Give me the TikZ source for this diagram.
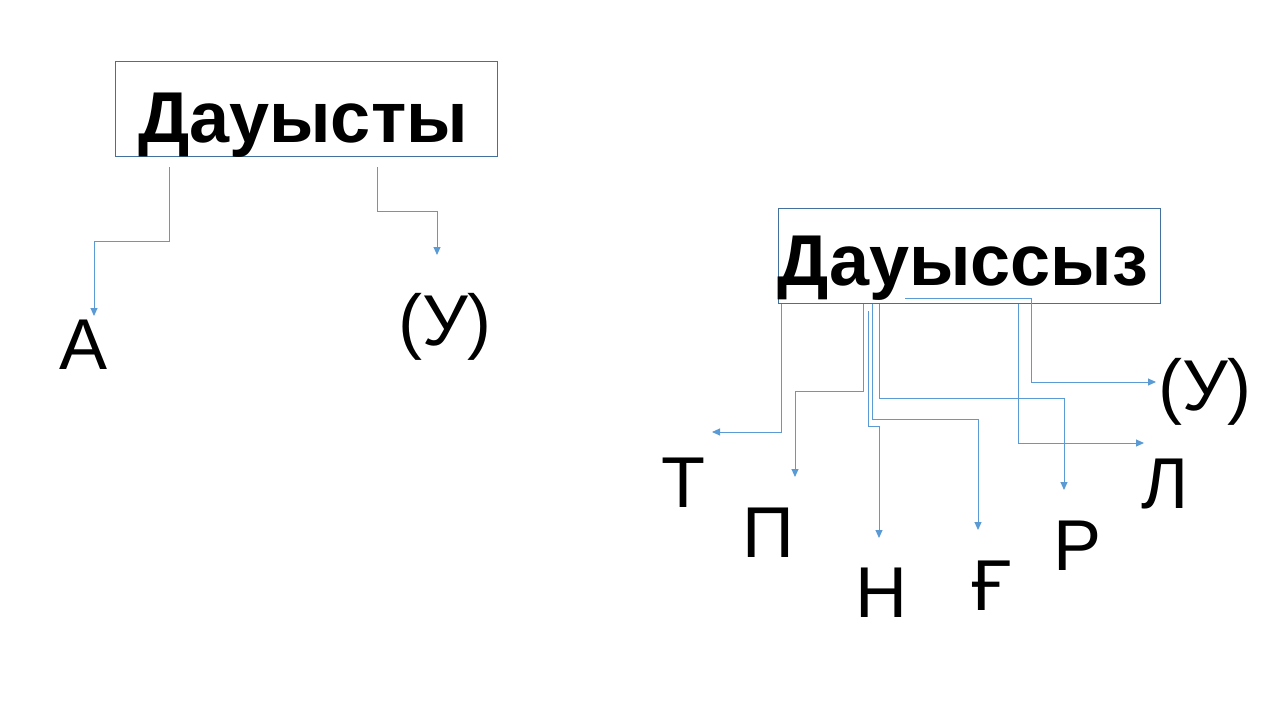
\documentclass[tikz,border=0pt]{standalone}
\usepackage{fontspec}
\setmainfont{Liberation Sans}
\usetikzlibrary{arrows.meta,positioning}
\definecolor{boxline}{HTML}{41719C}
\definecolor{arrline}{HTML}{5B9BD5}

\begin{document}
\begin{tikzpicture}[x=1pt, y=-1pt,
  titlebox/.style={draw=boxline, line width=0.9pt, minimum width=382pt, minimum height=95pt, inner sep=0},
  title/.style={font=\fontsize{72}{80}\selectfont\bfseries, anchor=base, inner sep=0},
  letter/.style={font=\fontsize{72}{80}\selectfont, anchor=base, inner sep=0},
  link/.style={arrline, line width=1pt, -{Triangle[length=8pt, width=7pt]}}]

  \useasboundingbox (0,0) rectangle (1280,720);

  % Boxes
  \node[titlebox] (vowelbox) at (306,109) {};
  \node[title] (vowel) at (303,142) {Дауысты};
  \node[titlebox] (consbox) at (969,256) {};
  \node[title] (cons) at (963,285) {Дауыссыз};

  % Letters
  \node[letter] (a) at (84,369) {А};
  \node[letter] (u) at (445,345) {(У)};
  \node[letter] (t) at (683,507) {Т};
  \node[letter] (p) at (768,557) {П};
  \node[letter] (n) at (881,617) {Н};
  \node[letter] (gh) at (992,610) {Ғ};
  \node[letter] (r) at (1077,570) {Р};
  \node[letter] (l) at (1165,508) {Л};
  \node[letter] (uu) at (1205,410) {(У)};

  % Arrow starts and ends
  \coordinate (a0) at (169,167);   \coordinate (a1) at (94,316);
  \coordinate (u0) at (377,167);   \coordinate (u1) at (437,255);
  \coordinate (t0) at (781,304);   \coordinate (t1) at (712,432);
  \coordinate (p0) at (863,304);   \coordinate (p1) at (795,477);
  \coordinate (n0) at (868,311);   \coordinate (n1) at (879,538);
  \coordinate (gh0) at (872,304);  \coordinate (gh1) at (978,530);
  \coordinate (r0) at (879,304);   \coordinate (r1) at (1064,490);
  \coordinate (l0) at (1018,304);  \coordinate (l1) at (1144,443);
  \coordinate (uu0) at (905,298);  \coordinate (uu1) at (1156,382);

  % Vowels
  \draw[link] (a0) -- ++(0,74) -| (a1);
  \draw[link] (u0) -- ++(0,44) -| (u1);

  % Consonants
  \draw[link] (t0) |- (t1);
  \draw[link] (p0) -- ++(0,87) -| (p1);
  \draw[link] (n0) -- ++(0,115) -| (n1);
  \draw[link] (gh0) -- ++(0,115) -| (gh1);
  \draw[link] (r0) -- ++(0,94) -| (r1);
  \draw[link] (l0) |- (l1);
  \draw[link] (uu0) -- ++(126,0) |- (uu1);

\end{tikzpicture}
\end{document}
